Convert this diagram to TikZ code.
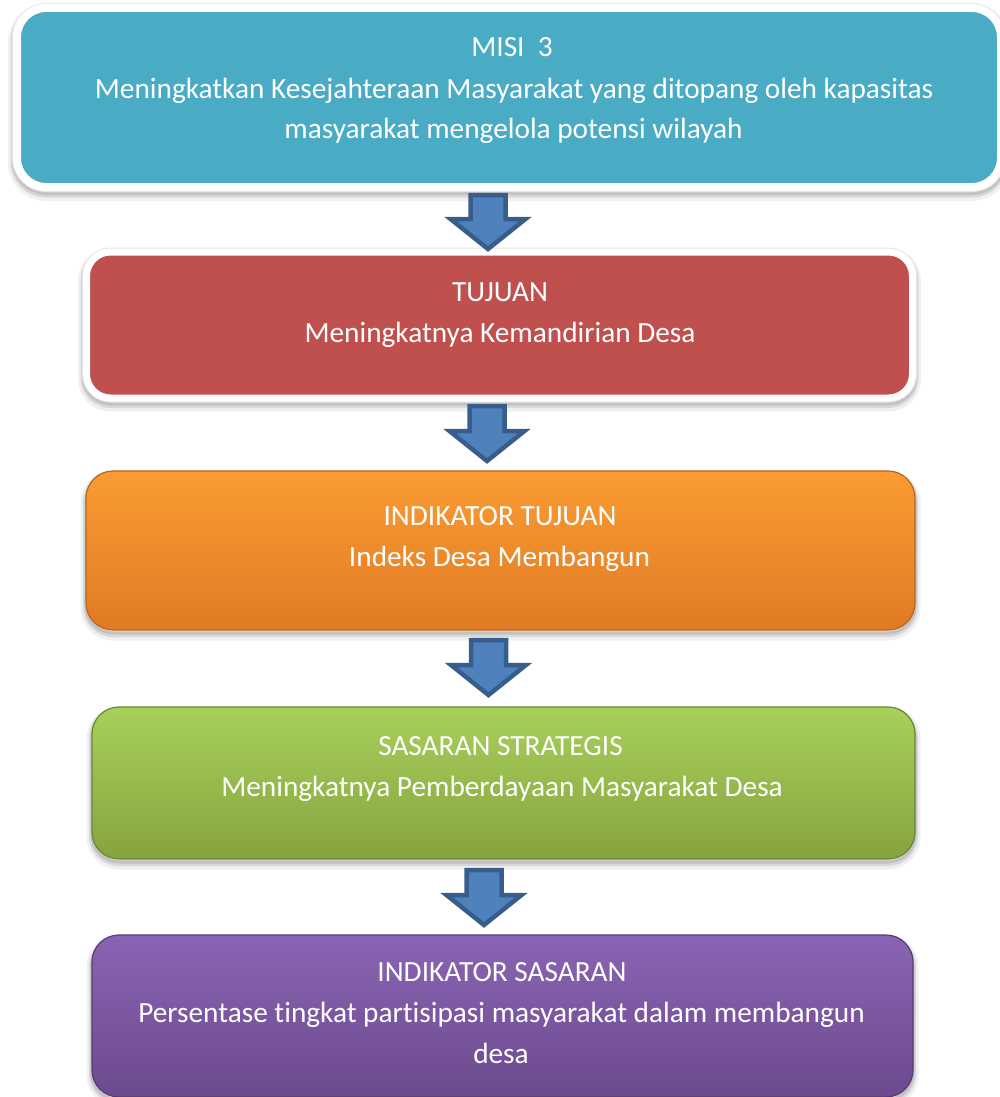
\documentclass[tikz,border=0pt]{standalone}
\usepackage{fontspec}
\setmainfont[Ligatures={NoCommon}]{Carlito}
\definecolor{tealfill}{HTML}{4AABC5}
\definecolor{redfill}{HTML}{C0504D}
\definecolor{orangetop}{HTML}{FB9C32}
\definecolor{orangebot}{HTML}{E07A25}
\definecolor{orangeedge}{HTML}{B8651F}
\definecolor{greentop}{HTML}{A8D05B}
\definecolor{greenbot}{HTML}{85A33F}
\definecolor{greenedge}{HTML}{6B8633}
\definecolor{purpletop}{HTML}{8A64B4}
\definecolor{purplebot}{HTML}{6C4A8D}
\definecolor{purpleedge}{HTML}{563B73}
\definecolor{arrowfill}{HTML}{4F81BD}
\definecolor{arrowedge}{HTML}{385D8A}
\tikzset{
  softshadow/.style={
    preaction={draw=black, draw opacity=0.06, line width=#1+10pt, transform canvas={yshift=-5pt}},
    preaction={draw=black, draw opacity=0.10, line width=#1+5pt, transform canvas={yshift=-4pt}},
    preaction={draw=black, draw opacity=0.10, line width=#1+2pt, transform canvas={yshift=-3pt}}},
  framedbox/.style={rectangle, softshadow=8pt,
    preaction={draw=black!10, line width=10pt},
    draw=white, line width=8pt, rounded corners=29pt},
  bevelbox/.style={rectangle, softshadow=1pt, line width=1.2pt, rounded corners=27pt},
  linetext/.style={anchor=base, text=white, inner sep=0pt,
    font=\fontsize{29.3}{41}\selectfont},
  flowarrow/.style={fill=arrowfill, draw=arrowedge, line width=4.5pt, line join=miter}
}
\newcommand\blockdownarrow[4]{%
  \draw[flowarrow] (#1-17.5,#2) -- (#1+17.5,#2) -- (#1+17.5,#3) -- (#1+37.5,#3)
    -- (#1,#4) -- (#1-37.5,#3) -- (#1-17.5,#3) -- cycle;}
\begin{document}
\begin{tikzpicture}[x=1pt, y=-1pt]
\useasboundingbox (0,0) rectangle (1000,1097);
% boxes
\node[framedbox, fill=tealfill, minimum width=984pt, minimum height=179pt] (misi) at (509,97.5) {};
\node[rectangle, softshadow=7pt, preaction={draw=black!10, line width=9pt},
  draw=white, line width=7pt, rounded corners=24pt, fill=redfill,
  minimum width=826pt, minimum height=146pt] (tujuan) at (499.5,325) {};
\node[bevelbox, top color=orangetop, bottom color=orangebot, draw=orangeedge, minimum width=829pt, minimum height=159pt] (indtujuan) at (500.5,550.5) {};
\node[bevelbox, top color=greentop, bottom color=greenbot, draw=greenedge, minimum width=823pt, minimum height=152pt] (sasaran) at (503.5,783) {};
\node[bevelbox, top color=purpletop, bottom color=purplebot, draw=purpleedge, minimum width=821pt, minimum height=162pt] (indsasaran) at (502.5,1016) {};
% texts
\node[linetext] (m1) at (512,57) {MISI\ \ 3};
\node[linetext] (m2) at (514,99) {Meningkatkan Kesejahteraan Masyarakat yang ditopang oleh kapasitas};
\node[linetext] (m3) at (513.5,139) {masyarakat mengelola potensi wilayah};
\node[linetext] (t1) at (500,301) {TUJUAN};
\node[linetext] (t2) at (500,342) {Meningkatnya Kemandirian Desa};
\node[linetext] (i1) at (500,525) {INDIKATOR TUJUAN};
\node[linetext] (i2) at (499.5,566) {Indeks Desa Membangun};
\node[linetext] (s1) at (500.5,755) {SASARAN STRATEGIS};
\node[linetext] (s2) at (502,796) {Meningkatnya Pemberdayaan Masyarakat Desa};
\node[linetext] (p1) at (502,981) {INDIKATOR SASARAN};
\node[linetext] (p2) at (501.5,1022) {Persentase tingkat partisipasi masyarakat dalam membangun};
\node[linetext] (p3) at (501,1063) {desa};
% arrows
\blockdownarrow{488}{195}{219}{249}
\blockdownarrow{487}{406}{431}{461}
\blockdownarrow{488.5}{640}{665}{695}
\blockdownarrow{484}{870}{895}{925}
\end{tikzpicture}
\end{document}
